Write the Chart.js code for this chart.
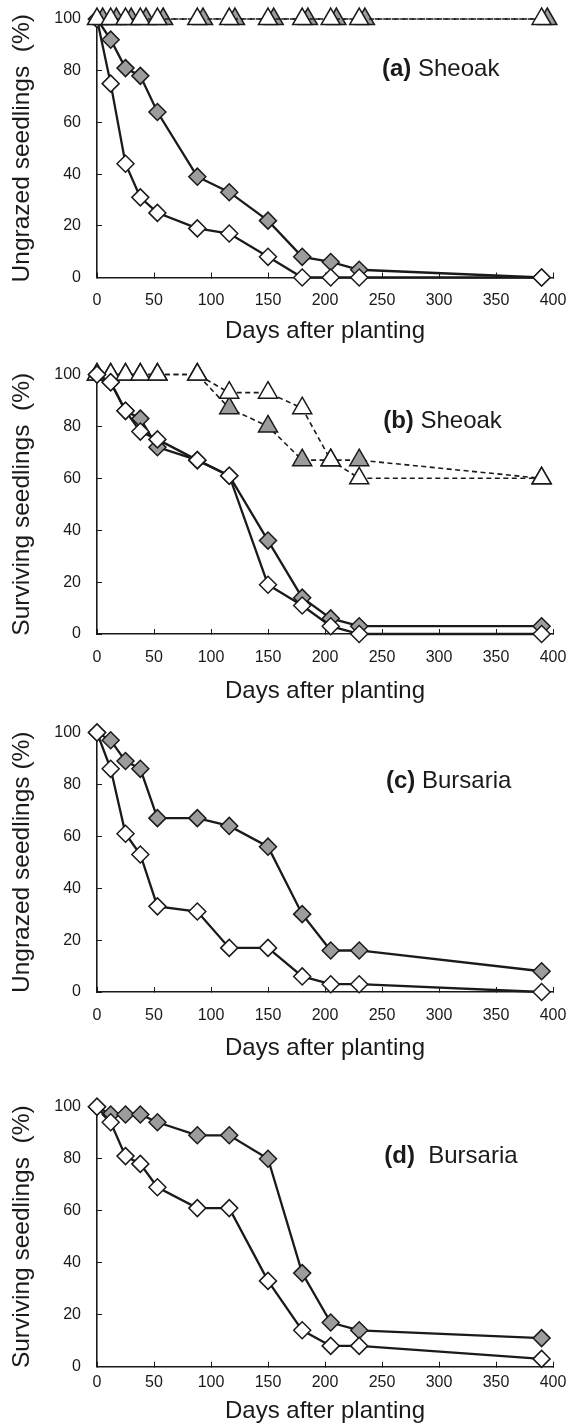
<!DOCTYPE html>
<html>
<head>
<meta charset="utf-8">
<script src="https://cdn.jsdelivr.net/npm/chart.js@4.4.1/dist/chart.umd.min.js"></script>
<style>
  html, body { margin: 0; padding: 0; background: #fff; overflow: hidden; }
  body { width: 578px; height: 1424px; position: relative; }
  canvas { position: absolute; left: 0; }
</style>
</head>
<body>
<canvas id="pa" width="578" height="350" style="top:0px"></canvas>
<canvas id="pb" width="578" height="360" style="top:350px"></canvas>
<canvas id="pc" width="578" height="360" style="top:710px"></canvas>
<canvas id="pd" width="578" height="360" style="top:1070px"></canvas>
<script>
// ---------- DATA ----------
const days = [0, 12, 25, 38, 53, 88, 116, 150, 180, 205, 230, 390];
// panel (a): grey triangles plotted slightly to the right of the open ones
const daysGreyTriA = [5, 17, 30, 43, 58, 93, 121, 155, 185, 210, 235, 395];

// (a) Sheoak - ungrazed seedlings (%)
const sheoakUngrazedTriOpen  = [100, 100, 100, 100, 100, 100, 100, 100, 100, 100, 100, 100];
const sheoakUngrazedTriGrey  = [100, 100, 100, 100, 100, 100, 100, 100, 100, 100, 100, 100];
const sheoakUngrazedDiamGrey = [100, 92, 81, 78, 64, 39, 33, 22, 8, 6, 3, 0];
const sheoakUngrazedDiamOpen = [100, 75, 44, 31, 25, 19, 17, 8, 0, 0, 0, 0];

// (b) Sheoak - surviving seedlings (%)
const sheoakSurvTriOpen  = [100, 100, 100, 100, 100, 100, 93, 93, 87, 67, 60, 60];
const sheoakSurvTriGrey  = [100, 100, 100, 100, 100, 100, 87, 80, 67, 67, 67, 60];
const sheoakSurvDiamGrey = [100, 97, 86, 83, 72, 67, 61, 36, 14, 6, 3, 3];
const sheoakSurvDiamOpen = [100, 97, 86, 78, 75, 67, 61, 19, 11, 3, 0, 0];

// (c) Bursaria - ungrazed seedlings (%)
const bursariaUngrazedDiamGrey = [100, 97, 89, 86, 67, 67, 64, 56, 30, 16, 16, 8];
const bursariaUngrazedDiamOpen = [100, 86, 61, 53, 33, 31, 17, 17, 6, 3, 3, 0];

// (d) Bursaria - surviving seedlings (%)
const bursariaSurvDiamGrey = [100, 97, 97, 97, 94, 89, 89, 80, 36, 17, 14, 11];
const bursariaSurvDiamOpen = [100, 94, 81, 78, 69, 61, 61, 33, 14, 8, 8, 3];

const xTitle = 'Days after planting';
const yTitles = ['Ungrazed seedlings  (%)', 'Surviving seedlings  (%)', 'Ungrazed seedlings (%)', 'Surviving seedlings  (%)'];
const panelLetters = ['(a)', '(b)', '(c)', '(d)'];
const panelNames = [' Sheoak', ' Sheoak', ' Bursaria', '  Bursaria'];

// ---------- STYLE ----------
const FONT = "'Liberation Sans', Arial, Helvetica, sans-serif";
Chart.defaults.font.family = FONT;
const INK = '#1a1a1a';
const GREY = '#9c9c9c';

function pts(xs, ys) { return xs.map((x, i) => ({ x: x, y: ys[i] })); }

function diamond(data, fill, order) {
  return {
    data: data, order: order, showLine: true, clip: false,
    borderColor: INK, borderWidth: 2.3, tension: 0,
    pointStyle: 'rectRot', pointRadius: 8.5,
    pointBackgroundColor: fill, pointBorderColor: INK, pointBorderWidth: 1.5
  };
}
function triangle(data, fill, order) {
  return {
    data: data, order: order, showLine: true, clip: false,
    borderColor: INK, borderWidth: 1.6, borderDash: [5, 3.5], tension: 0,
    pointStyle: 'triangle', pointRadius: 11,
    pointBackgroundColor: fill, pointBorderColor: INK, pointBorderWidth: 1.5
  };
}

const labelPlugin = {
  id: 'panelLabel',
  afterDatasetsDraw(chart, args, opts) {
    const ctx = chart.ctx;
    const x = chart.scales.x.getPixelForValue(opts.x);
    const y = chart.scales.y.getPixelForValue(opts.y);
    ctx.save();
    ctx.fillStyle = INK;
    ctx.textBaseline = 'middle';
    ctx.textAlign = 'left';
    ctx.font = 'bold 24px ' + FONT;
    ctx.fillText(opts.letter, x, y);
    const w = ctx.measureText(opts.letter).width;
    ctx.font = '24px ' + FONT;
    ctx.fillText(opts.name, x + w, y);
    ctx.restore();
  }
};

function makePanel(id, datasets, idx, L) {
  new Chart(document.getElementById(id), {
    type: 'scatter',
    data: { datasets: datasets },
    plugins: [labelPlugin],
    options: {
      responsive: false, animation: false, devicePixelRatio: 1,
      layout: { padding: { left: 0, right: 25, top: L.top, bottom: 0 } },
      plugins: {
        legend: { display: false }, tooltip: { enabled: false },
        panelLabel: { x: L.lx, y: L.ly, letter: panelLetters[idx], name: panelNames[idx] }
      },
      scales: {
        x: {
          type: 'linear', min: 0, max: 400,
          ticks: { stepSize: 50, color: INK, font: { size: 16 }, padding: L.tickPad, maxRotation: 0, autoSkip: false },
          grid: { display: true, drawOnChartArea: false, drawTicks: true, tickLength: -5, color: INK, lineWidth: 1 },
          border: { display: true, color: INK, width: 1.6 },
          title: { display: true, text: xTitle, color: INK, font: { size: 24 }, padding: { top: 0, bottom: L.titlePad } },
          afterFit: s => { s.height = L.xh; s.paddingLeft = 0; s.paddingRight = 0; }
        },
        y: {
          type: 'linear', min: 0, max: 100,
          ticks: { stepSize: 20, color: INK, font: { size: 16 }, padding: 21 },
          grid: { display: true, drawOnChartArea: false, drawTicks: true, tickLength: -5, color: INK, lineWidth: 1 },
          border: { display: true, color: INK, width: 1.6 },
          title: { display: true, text: yTitles[idx], color: INK, font: { size: 24.5 }, padding: { top: 7.4, bottom: 0 } },
          afterFit: s => { s.width = 97; s.paddingTop = 0; s.paddingBottom = 0; }
        }
      }
    }
  });
}

makePanel('pa', [
  triangle(pts(days, sheoakUngrazedTriOpen), '#ffffff', 0),
  triangle(pts(daysGreyTriA, sheoakUngrazedTriGrey), GREY, 1),
  diamond(pts(days, sheoakUngrazedDiamOpen), '#ffffff', 2),
  diamond(pts(days, sheoakUngrazedDiamGrey), GREY, 3)
], 0, { top: 19, xh: 72.5, tickPad: 18.9, titlePad: 3.9, lx: 250, ly: 80.5 });

makePanel('pb', [
  diamond(pts(days, sheoakSurvDiamOpen), '#ffffff', 0),
  diamond(pts(days, sheoakSurvDiamGrey), GREY, 1),
  triangle(pts(days, sheoakSurvTriOpen), '#ffffff', 2),
  triangle(pts(days, sheoakSurvTriGrey), GREY, 3)
], 1, { top: 24.5, xh: 76, tickPad: 18.9, titlePad: 4.3, lx: 251, ly: 81.8 });

makePanel('pc', [
  diamond(pts(days, bursariaUngrazedDiamOpen), '#ffffff', 0),
  diamond(pts(days, bursariaUngrazedDiamGrey), GREY, 1)
], 2, { top: 22.5, xh: 78, tickPad: 19.4, titlePad: 7.1, lx: 253.5, ly: 81.3 });

makePanel('pd', [
  diamond(pts(days, bursariaSurvDiamOpen), '#ffffff', 0),
  diamond(pts(days, bursariaSurvDiamGrey), GREY, 1)
], 3, { top: 36.7, xh: 63.3, tickPad: 11.7, titlePad: 3.9, lx: 252, ly: 80.8 });
</script>
</body>
</html>
